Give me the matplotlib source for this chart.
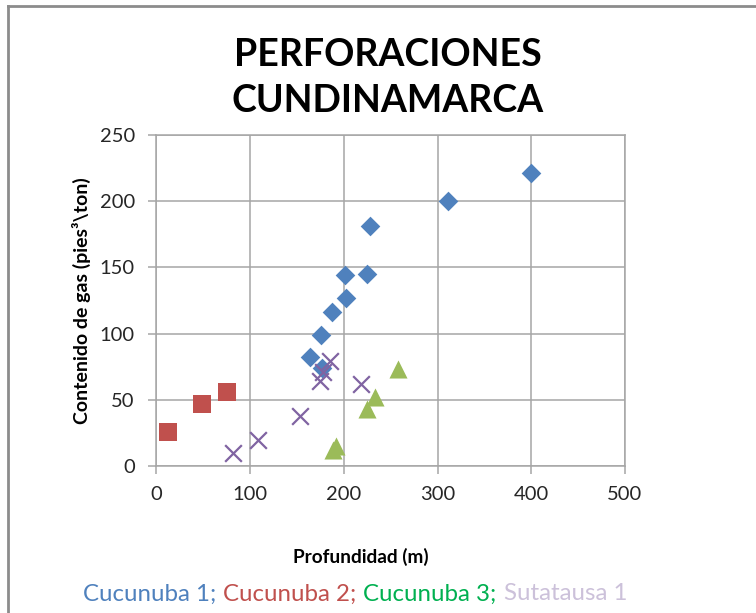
import matplotlib
matplotlib.use("Agg")
import matplotlib.pyplot as plt
from matplotlib.offsetbox import TextArea, HPacker, AnchoredOffsetbox
from matplotlib.lines import Line2D

plt.rcParams['font.family'] = ['Lato', 'DejaVu Sans']

# Data
cuc1_x = [400, 311, 228, 201, 225, 202, 187, 176, 164, 177]
cuc1_y = [221, 200, 181, 144, 145, 127, 116, 99, 82, 74]
cuc2_x = [12, 49, 75]
cuc2_y = [26, 47, 56]
cuc3_x = [258, 233, 225, 192, 188]
cuc3_y = [73, 52, 43, 15, 12]
sut_x = [82, 108, 153, 175, 178, 185, 218]
sut_y = [10, 20, 38, 64, 71, 79, 62]

series_names = ["Cucunuba 1", "Cucunuba 2", "Cucunuba 3", "Sutatausa 1"]
legend_colors = ["#4F81BD", "#C0504D", "#00B050", "#CCC1DA"]
x_ticks = [0, 100, 200, 300, 400, 500]
y_ticks = [0, 50, 100, 150, 200, 250]

fig = plt.figure(figsize=(7.56, 6.13), dpi=100)
# outer border (left and top)
fig.add_artist(Line2D([8/756, 8/756], [0, 1 - 6/613], transform=fig.transFigure,
                      color="#8C8C8C", lw=2))
fig.add_artist(Line2D([8/756, 1], [1 - 6/613, 1 - 6/613], transform=fig.transFigure,
                      color="#8C8C8C", lw=2))

ax = fig.add_axes([156.3/756, 1 - 466/613, (625 - 156.3)/756, (466 - 135)/613])

ax.scatter(cuc1_x, cuc1_y, marker='D', s=10**2, color="#4F81BD", zorder=3, linewidths=0)
ax.scatter(cuc2_x, cuc2_y, marker='s', s=13.5**2, color="#C0504D", zorder=3, linewidths=0)
ax.scatter(cuc3_x, cuc3_y, marker='^', s=13**2, color="#9BBB59", zorder=3, linewidths=0)
ax.scatter(sut_x, sut_y, marker='x', s=12**2, color="#8064A2", zorder=3, linewidths=1.6)

ax.set_xlim(0, 500)
ax.set_ylim(0, 250)
ax.set_xticks(x_ticks)
ax.set_yticks(y_ticks)
ax.grid(True, color="#A6A6A6", lw=1.1)
ax.set_axisbelow(True)
for sp in ax.spines.values():
    sp.set_color("#A6A6A6")
    sp.set_linewidth(1.1)
ax.tick_params(axis='both', direction='out', length=5.5, width=1.1, color="#A6A6A6",
               labelsize=14.5, labelcolor="#262626")
ax.tick_params(axis='y', pad=10)
ax.tick_params(axis='x', pad=9)

ax.set_ylabel("Contenido de gas (pies³\\ton)", fontsize=14, fontweight='bold')
ax.yaxis.set_label_coords((91 - 156.3) / 468.7, 0.5)
fig.text(361/756, 1 - 557/613, "Profundidad (m)", fontsize=13.7, fontweight='bold',
         ha='center', va='center')

fig.text(388/756, 1 - 78/613, "PERFORACIONES\nCUNDINAMARCA", fontsize=27, fontweight='bold',
         ha='center', va='center', linespacing=1.42)

# colored legend text
areas = []
for i, (n, c) in enumerate(zip(series_names, legend_colors)):
    t = n + (";" if i < len(series_names) - 1 else "")
    areas.append(TextArea(t, textprops=dict(color=c, fontsize=17.3)))
pack = HPacker(children=areas, align="baseline", pad=0, sep=5)
ab = AnchoredOffsetbox(loc='center', child=pack, frameon=False,
                       bbox_to_anchor=(355/756, 1 - 594/613), bbox_transform=fig.transFigure,
                       borderpad=0, pad=0)
fig.add_artist(ab)

fig.savefig("out.png", dpi=100)
